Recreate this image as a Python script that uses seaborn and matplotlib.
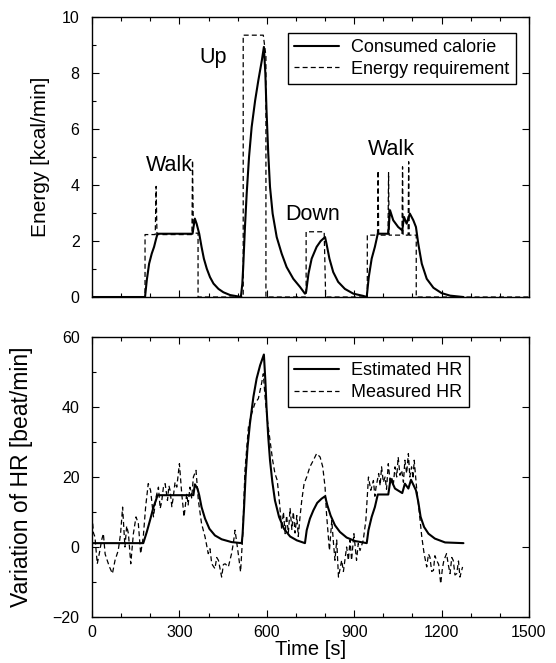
import numpy as np
import pandas as pd
import matplotlib
matplotlib.use("Agg")
import matplotlib.pyplot as plt
import seaborn as sns
from matplotlib.ticker import MultipleLocator

# ---------------- data ----------------
cal_t = [0, 182, 188, 196, 205, 213, 220, 225, 345, 350, 353, 359, 368, 376, 384, 394, 405,
         417, 434, 451, 474, 508,
         511, 516, 519, 525, 531, 539, 548, 560, 571, 583, 590,
         595, 599, 605, 611, 620, 634, 651, 668, 691, 714, 731,
         735, 743, 754, 771, 785, 800, 805, 815, 828, 845, 868, 897, 931,
         943, 950, 960, 971, 981, 1017, 1023, 1034, 1051, 1065, 1071, 1080, 1091, 1103,
         1112, 1120, 1132, 1149, 1172, 1200, 1229, 1275]
cal_e = [0, 0, 0.6, 1.19, 1.55, 1.79, 2.08, 2.26, 2.26, 2.6, 2.8, 2.62, 2.26, 1.79, 1.37, 1.01, 0.71,
         0.48, 0.29, 0.17, 0.07, 0.01,
         0.0, 0.48, 1.07, 2.5, 3.7, 5.0, 6.07, 7.02, 7.74, 8.45, 8.93,
         7.98, 6.67, 5.12, 3.93, 2.98, 2.14, 1.55, 1.07, 0.65, 0.36, 0.12,
         0.18, 0.83, 1.37, 1.79, 2.0, 2.14, 1.9, 1.37, 0.89, 0.54, 0.29, 0.12, 0.04,
         0.0, 0.71, 1.37, 1.79, 2.26, 2.26, 3.1, 2.74, 2.5, 2.38, 2.86, 2.62, 2.98, 2.74,
         2.5, 1.9, 1.19, 0.65, 0.33, 0.14, 0.05, 0.0]

req_t = [0, 182, 182, 217, 220, 223, 343, 345, 348, 364, 364,
         519, 519, 588, 597, 597,
         735, 735, 797, 802,
         945, 945, 980, 982, 984, 1016, 1018, 1020, 1064, 1066, 1068,
         1085, 1087, 1089, 1113, 1113, 1500]
req_e = [0, 0, 2.23, 2.23, 3.95, 2.23, 2.23, 4.88, 2.28, 2.28, 0,
         0, 9.35, 9.35, 8.6, 0,
         0, 2.33, 2.33, 0,
         0, 2.21, 2.21, 4.51, 2.21, 2.21, 4.44, 2.21, 2.21, 4.65, 2.21,
         2.21, 4.83, 2.21, 2.21, 0, 0]

est_t = [0, 176, 188, 199, 211, 220, 225, 348, 353, 362, 368, 376, 388, 403, 422, 445, 479, 514,
         517, 522, 527, 534, 542, 554, 565, 577, 590,
         595, 599, 605, 611, 619, 628, 642, 659, 680, 703, 731,
         737, 748, 760, 773, 788, 800, 808, 819, 834, 851, 874, 903, 943,
         949, 960, 971, 981, 1017, 1025, 1040, 1065, 1074, 1086, 1095, 1112, 1120, 1128,
         1140, 1155, 1177, 1212, 1275]
est_hr = [1.1, 1.1, 4.3, 7.6, 11.4, 13.5, 14.8, 14.8, 17.9, 16.7, 14.8, 11.4, 8.1, 5.2, 3.3, 2.2, 1.4, 1.1,
          3.8, 11.4, 20.0, 28.6, 35.2, 42.9, 48.1, 51.9, 55.0,
          47.6, 40.0, 31.4, 24.8, 18.6, 13.3, 8.6, 5.2, 3.0, 1.9, 1.1,
          4.8, 8.1, 10.5, 12.6, 13.8, 14.5, 11.9, 9.0, 6.2, 4.3, 2.7, 1.7, 1.1,
          4.8, 8.6, 11.4, 15.0, 15.0, 19.5, 16.7, 15.4, 18.1, 16.7, 19.2, 16.2, 12.9, 8.6,
          5.7, 3.8, 2.4, 1.3, 1.1]

meas_t = [0, 5, 10, 18, 27, 33, 39, 45, 50, 60, 70, 79, 90, 98, 105, 113, 119, 125, 133, 142,
          151, 159, 167, 176, 184, 193, 201, 211, 220, 228, 234, 239, 245, 251, 259, 264, 268,
          274, 279, 285, 291, 300, 308, 316, 325, 330, 336, 342, 348, 357, 365, 376, 388, 399,
          405, 411, 422, 428, 434, 445, 451, 457, 468, 479, 485, 491, 502, 510, 517, 525, 537,
          548, 559, 571, 582, 588, 594, 602, 611, 620, 628, 636, 645, 651, 657, 663, 668, 674,
          680, 686, 691, 697, 703, 708, 714, 720, 728, 737, 748, 760, 771, 783, 792, 800, 805,
          815, 823, 829, 834, 840, 846, 857, 863, 868, 874, 880, 886, 891, 899, 908, 914, 920,
          931, 940, 949, 957, 966, 971, 975, 984, 989, 994, 1000, 1006, 1011, 1017, 1023, 1029,
          1034, 1040, 1046, 1051, 1057, 1063, 1069, 1074, 1080, 1086, 1091, 1097, 1102, 1106,
          1114, 1124, 1132, 1140, 1149, 1155, 1160, 1166, 1172, 1177, 1183, 1190, 1197, 1203,
          1208, 1217, 1223, 1229, 1235, 1240, 1246, 1252, 1258, 1263, 1272]
meas_hr = [9.0, 4.0, 2.9, -4.8, -1.0, 2.0, 3.8, -2.0, -3.3, -5.7, -7.6, -3.8, -1.0, 3.8, 11.4,
           0.0, 6.0, 3.8, -4.8, 3.8, 8.6, 6.7, -1.9, 2.9, 11.4, 18.1, 16.2, 8.6, 14.3, 17.1,
           11.0, 12.9, 17.0, 18.1, 13.3, 17.5, 16.2, 11.5, 14.3, 18.5, 17.1, 23.8, 15.2, 8.6,
           15.2, 12.0, 17.1, 14.0, 20.0, 21.9, 13.3, 6.7, 2.9, -1.9, -0.5, -4.8, -6.2, -3.0,
           -3.8, -8.6, -5.0, -4.8, -5.7, -1.9, 1.0, 4.8, -1.9, -7.1, 2.9, 21.9, 34.3, 38.1,
           41.0, 42.4, 46.7, 49.5, 42.9, 36.2, 30.5, 24.8, 21.0, 19.0, 11.4, 5.0, 10.0, 3.8,
           9.0, 4.0, 11.0, 5.0, 10.0, 4.0, 9.0, 3.0, 8.6, 13.3, 18.1, 20.0, 22.9, 24.8, 26.7,
           25.7, 22.9, 17.1, 9.5, -1.0, 7.6, 1.0, -3.8, 2.0, -8.6, -3.8, -7.0, -3.8, 0.0,
           -3.8, 2.0, -3.8, 3.8, -3.8, 1.0, -1.0, 1.9, 7.6, 20.0, 16.2, 19.0, 14.5, 17.1,
           21.0, 17.5, 22.9, 18.5, 20.0, 16.5, 23.8, 19.0, 20.0, 17.5, 22.9, 20.0, 25.7, 20.5,
           21.9, 18.5, 24.8, 21.0, 26.7, 20.0, 22.9, 19.5, 24.8, 17.1, 9.5, 2.9, -1.9, -5.7,
           -2.0, -2.9, -7.0, -6.7, -2.5, -3.8, -5.0, -10.5, -6.0, -3.8, -1.9, -5.0, -7.6,
           -3.0, -3.8, -8.0, -7.6, -4.0, -8.6, -5.7]

annot_text = ["Walk", "Up", "Down", "Walk"]
annot_t = [264, 415, 759, 1028]
annot_e = [4.7, 8.55, 2.95, 5.27]

# ---------------- style ----------------
sns.set_theme(style="white")
plt.rcParams['font.family'] = ['Liberation Sans', 'DejaVu Sans']
plt.rcParams['axes.unicode_minus'] = True
plt.rcParams['text.color'] = 'black'
plt.rcParams['axes.labelcolor'] = 'black'
plt.rcParams['xtick.color'] = 'black'
plt.rcParams['ytick.color'] = 'black'

fig = plt.figure(figsize=(5.56, 6.63), dpi=100)
ax1 = fig.add_axes([0.1655, 0.552, 0.7859, 0.4224])
ax2 = fig.add_axes([0.1655, 0.0694, 0.7859, 0.4223])

dash = (0, (4, 2.5))

sns.lineplot(x=cal_t, y=cal_e, ax=ax1, color='black', lw=1.5, estimator=None,
             sort=False, label='Consumed calorie')
sns.lineplot(x=req_t, y=req_e, ax=ax1, color='black', lw=0.9, linestyle=dash,
             estimator=None, sort=False, label='Energy requirement')

sns.lineplot(x=est_t, y=est_hr, ax=ax2, color='black', lw=1.5, estimator=None,
             sort=False, label='Estimated HR')
sns.lineplot(x=meas_t, y=meas_hr, ax=ax2, color='black', lw=0.9, linestyle=dash,
             estimator=None, sort=False, label='Measured HR')

for txt, tx, ty in zip(annot_text, annot_t, annot_e):
    ax1.text(tx, ty, txt, ha='center', va='center', fontsize=15.5, color='black')

ax1.set_xlim(0, 1500)
ax1.set_ylim(0, 10)
ax2.set_xlim(0, 1500)
ax2.set_ylim(-20, 60)

for ax, ymaj, ymin in ((ax1, 2, 1), (ax2, 20, 10)):
    ax.xaxis.set_major_locator(MultipleLocator(300))
    ax.xaxis.set_minor_locator(MultipleLocator(100))
    ax.yaxis.set_major_locator(MultipleLocator(ymaj))
    ax.yaxis.set_minor_locator(MultipleLocator(ymin))
    ax.tick_params(which='both', direction='in', top=True, right=True,
                   bottom=True, left=True, colors='black', labelsize=11.5)
    ax.tick_params(axis='y', which='both', pad=9)
    ax.tick_params(axis='x', which='both', pad=5.5)
    ax.tick_params(which='major', length=5, width=0.8)
    ax.tick_params(which='minor', length=3, width=0.8, right=False)
    for s in ax.spines.values():
        s.set_color('black')
        s.set_linewidth(1.0)
    ax.set_xlabel('')

ax1.tick_params(labelbottom=False)
ax1.set_ylabel('Energy [kcal/min]', fontsize=15)
ax1.yaxis.set_label_coords(-0.096, 0.5)
ax2.set_ylabel('Variation of HR [beat/min]', fontsize=16.5)
ax2.yaxis.set_label_coords(-0.135, 0.5)
ax2.set_xlabel('Time [s]', fontsize=14.5, labelpad=0)

leg_kw = dict(loc='upper left', fontsize=13, frameon=True, fancybox=False,
              edgecolor='black', framealpha=1, handlelength=2.5, handletextpad=0.65,
              labelspacing=0.25, borderpad=0.35, borderaxespad=0)
l1 = ax1.legend(bbox_to_anchor=(0.4485, 0.943), **leg_kw)
l2 = ax2.legend(bbox_to_anchor=(0.4485, 0.932), **leg_kw)
for lg in (l1, l2):
    lg.get_frame().set_linewidth(1.0)
    for t in lg.get_texts():
        t.set_color('black')

fig.savefig('out.png', dpi=100)
